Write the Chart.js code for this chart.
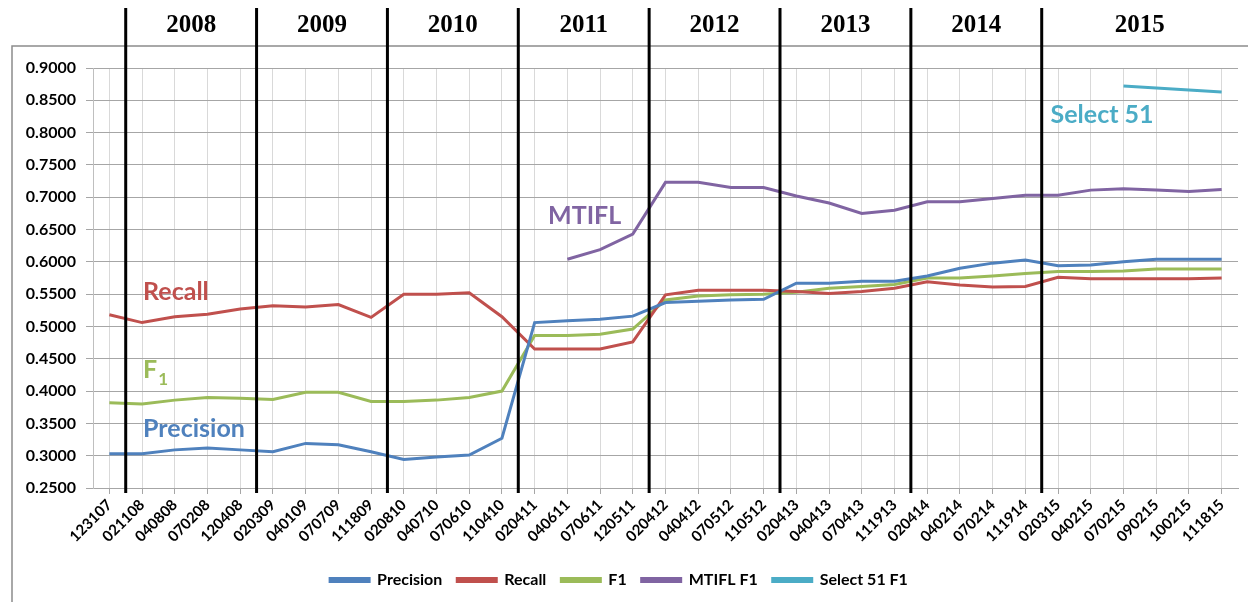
<!DOCTYPE html>
<html lang="en">
<head>
    <meta charset="UTF-8">
    <title>Precision / Recall / F1 by run</title>
    <script src="https://cdn.jsdelivr.net/npm/chart.js"></script>
    <style>
        body {
            margin: 0;
            background-color: #ffffff;
        }
        canvas {
            display: block;
        }
    </style>
</head>
<body>
    <canvas id="prChart" width="1248" height="602"></canvas>

    <script>
        // Run dates (mmddyy)
        const runs = ['123107', '021108', '040808', '070208', '120408', '020309', '040109', '070709', '111809',
            '020810', '040710', '070610', '110410', '020411', '040611', '070611', '120511', '020412', '040412',
            '070512', '110512', '020413', '040413', '070413', '111913', '020414', '040214', '070214', '111914',
            '020315', '040215', '070215', '090215', '100215', '111815'];

        const precision = [0.303, 0.303, 0.309, 0.312, 0.309, 0.306, 0.319, 0.317, 0.306, 0.294, 0.298, 0.301,
            0.327, 0.506, 0.509, 0.511, 0.516, 0.537, 0.539, 0.541, 0.542, 0.567, 0.567, 0.570, 0.570, 0.578,
            0.590, 0.598, 0.603, 0.594, 0.595, 0.600, 0.604, 0.604, 0.604];

        const recall = [0.518, 0.506, 0.515, 0.519, 0.527, 0.532, 0.530, 0.534, 0.514, 0.550, 0.550, 0.552,
            0.515, 0.465, 0.465, 0.465, 0.476, 0.549, 0.556, 0.556, 0.556, 0.554, 0.551, 0.554, 0.559, 0.569,
            0.564, 0.561, 0.562, 0.576, 0.574, 0.574, 0.574, 0.574, 0.575];

        const f1 = [0.382, 0.380, 0.386, 0.390, 0.389, 0.387, 0.398, 0.398, 0.384, 0.384, 0.386, 0.390, 0.400,
            0.486, 0.486, 0.488, 0.496, 0.541, 0.547, 0.549, 0.550, 0.553, 0.559, 0.562, 0.565, 0.575, 0.575,
            0.578, 0.582, 0.585, 0.585, 0.586, 0.589, 0.589, 0.589];

        const mtiflF1 = [null, null, null, null, null, null, null, null, null, null, null, null, null, null,
            0.604, 0.619, 0.643, 0.723, 0.723, 0.715, 0.715, 0.702, 0.691, 0.675, 0.680, 0.693, 0.693, 0.698,
            0.703, 0.703, 0.711, 0.713, 0.711, 0.709, 0.712];

        const select51F1 = [null, null, null, null, null, null, null, null, null, null, null, null, null, null,
            null, null, null, null, null, null, null, null, null, null, null, null, null, null, null, null, null,
            0.872, 0.869, 0.866, 0.863];

        // Year bands: first run of each year
        const years = ['2008', '2009', '2010', '2011', '2012', '2013', '2014', '2015'];
        const yearStarts = ['021108', '020309', '020810', '020411', '020412', '020413', '020414', '020315'];

        const colors = {
            precision: '#4f81bd',
            recall: '#c0504d',
            f1: '#9bbb59',
            mtifl: '#8064a2',
            select: '#4bacc6'
        };

        // In-chart labels: position given as (category index, value)
        const notes = [
            { text: 'Recall', idx: 1.03, val: 0.541, color: colors.recall },
            { text: 'F', sub: '1', idx: 1.03, val: 0.420, color: colors.f1 },
            { text: 'Precision', idx: 1.03, val: 0.329, color: colors.precision },
            { text: 'MTIFL', idx: 13.41, val: 0.659, color: colors.mtifl },
            { text: 'Select 51', idx: 28.77, val: 0.815, color: colors.select }
        ];

        Chart.defaults.font.family = 'Lato, "Liberation Sans", sans-serif';
        Chart.defaults.color = '#000000';

        function series(label, data, color) {
            return {
                label: label,
                data: data,
                borderColor: color,
                backgroundColor: color,
                borderWidth: 3,
                pointRadius: 0,
                pointHoverRadius: 0,
                tension: 0,
                fill: false,
                spanGaps: false
            };
        }

        const yearPlugin = {
            id: 'yearPlugin',
            beforeDraw(chart) {
                const c = chart.ctx;
                c.save();
                c.strokeStyle = '#8c8c8c';
                c.lineWidth = 1.5;
                c.strokeRect(12, 46, chart.width, chart.height);
                c.restore();
            },
            afterDatasetsDraw(chart) {
                const c = chart.ctx;
                const xs = chart.scales.x;
                const step = xs.getPixelForValue(1) - xs.getPixelForValue(0);
                const bounds = yearStarts.map(r => xs.getPixelForValue(runs.indexOf(r)) - step / 2);

                c.save();
                c.strokeStyle = '#000000';
                c.lineWidth = 3;
                bounds.forEach(x => {
                    c.beginPath();
                    c.moveTo(x, 8);
                    c.lineTo(x, chart.chartArea.bottom + 5);
                    c.stroke();
                });

                c.fillStyle = '#000000';
                c.font = 'bold 25px "Liberation Serif", "Times New Roman", serif';
                c.textAlign = 'center';
                c.textBaseline = 'middle';
                years.forEach((y, i) => {
                    const right = i < bounds.length - 1 ? bounds[i + 1] : chart.chartArea.right;
                    c.fillText(y, (bounds[i] + right) / 2, 26);
                });
                c.restore();
            },
            afterDraw(chart) {
                const c = chart.ctx;
                const xs = chart.scales.x;
                const ys = chart.scales.y;
                c.save();
                c.textAlign = 'left';
                c.textBaseline = 'alphabetic';
                notes.forEach(n => {
                    const x = xs.getPixelForValue(n.idx);
                    const y = ys.getPixelForValue(n.val);
                    c.fillStyle = n.color;
                    c.font = 'bold 25px Lato, "Liberation Sans", sans-serif';
                    c.fillText(n.text, x, y);
                    if (n.sub) {
                        const w = c.measureText(n.text).width;
                        c.font = 'bold 17px Lato, "Liberation Sans", sans-serif';
                        c.fillText(n.sub, x + w + 1, y + 7);
                    }
                });
                c.restore();
            }
        };

        const ctx = document.getElementById('prChart').getContext('2d');

        const chart = new Chart(ctx, {
            type: 'line',
            data: {
                labels: runs,
                datasets: [
                    series('Precision', precision, colors.precision),
                    series('Recall', recall, colors.recall),
                    series('F1', f1, colors.f1),
                    series('MTIFL F1', mtiflF1, colors.mtifl),
                    series('Select 51 F1', select51F1, colors.select)
                ]
            },
            options: {
                responsive: false,
                animation: false,
                layout: {
                    padding: { left: 0, right: 10, top: 68, bottom: 4 }
                },
                plugins: {
                    legend: {
                        position: 'bottom',
                        labels: {
                            boxWidth: 39,
                            boxHeight: 3,
                            padding: 15,
                            color: '#000000',
                            font: { size: 16, weight: 'bold' }
                        }
                    },
                    tooltip: { enabled: false }
                },
                scales: {
                    x: {
                        offset: true,
                        grid: {
                            color: '#d9d9d9',
                            tickLength: 6,
                            tickColor: '#a6a6a6'
                        },
                        border: { color: '#a6a6a6' },
                        ticks: {
                            autoSkip: false,
                            minRotation: 45,
                            maxRotation: 45,
                            padding: 2,
                            font: { size: 15, weight: 'bold' }
                        },
                        afterFit(s) {
                            s.height = s.chart.height - 4 - s.chart.legend.height - 488;
                        }
                    },
                    y: {
                        min: 0.25,
                        max: 0.9,
                        grid: {
                            color: '#a6a6a6',
                            tickLength: 7
                        },
                        border: { color: '#bfbfbf' },
                        ticks: {
                            stepSize: 0.05,
                            padding: 10,
                            font: { size: 16, weight: 'bold' },
                            callback: v => v.toFixed(4)
                        },
                        afterFit(s) {
                            s.width = 93;
                        }
                    }
                }
            },
            plugins: [yearPlugin]
        });
    </script>
</body>
</html>
